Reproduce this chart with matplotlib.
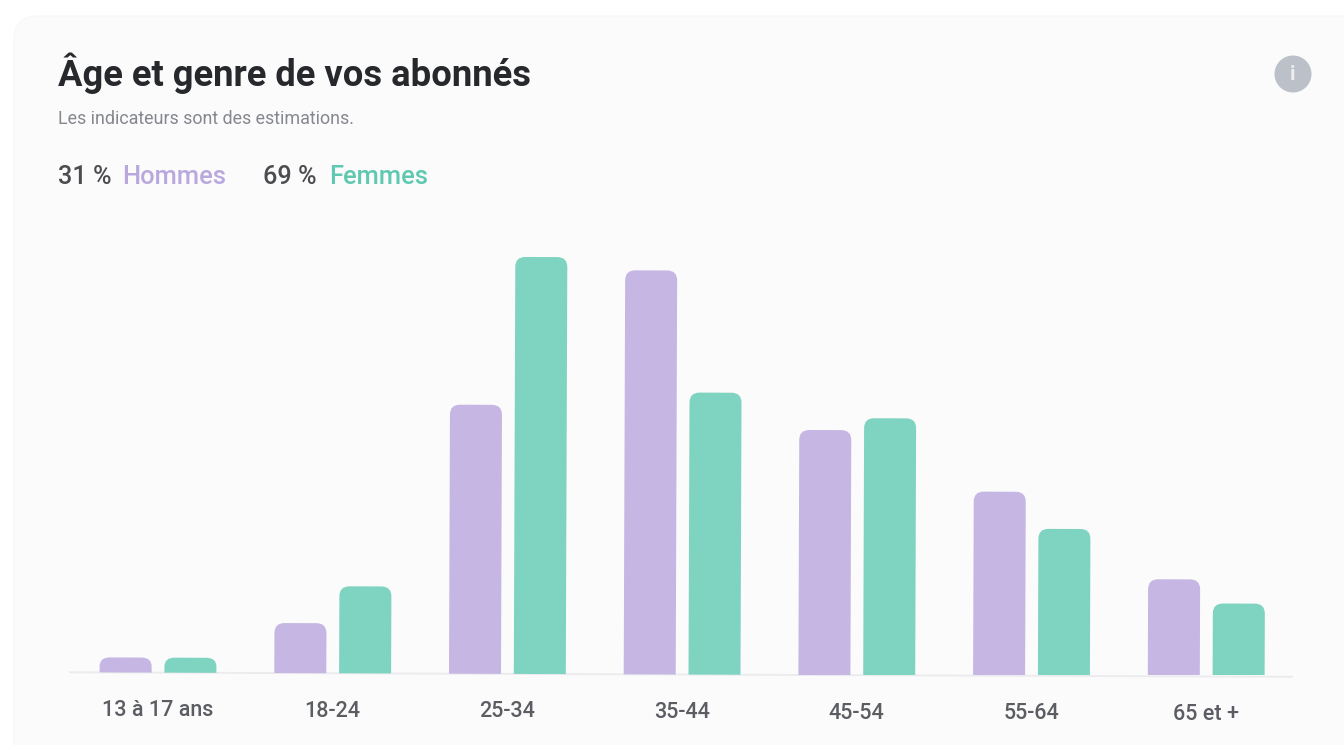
import matplotlib
matplotlib.use("Agg")
import matplotlib.pyplot as plt
from matplotlib.patches import FancyBboxPatch, PathPatch, Circle
from matplotlib.path import Path
from matplotlib.transforms import Affine2D
import numpy as np

categories = ["13 à 17 ans", "18-24", "25-34", "35-44", "45-54", "55-64", "65 et +"]
hommes = [15, 50, 269, 404, 245, 184, 97]
femmes = [15, 87, 417, 282, 257, 147, 73]
color_h = "#c5b6e3"
color_f = "#7fd3c1"
W, H = 1344, 745

plt.rcParams["font.family"] = ["Roboto", "DejaVu Sans"]
fig = plt.figure(figsize=(W / 100, H / 100), dpi=100, facecolor="white")

# page-level axes in pixel coordinates
bg = fig.add_axes([0, 0, 1, 1])
bg.set_xlim(0, W)
bg.set_ylim(H, 0)
bg.axis("off")
bg.add_patch(FancyBboxPatch((14, 16), W + 60, H + 60,
                            boxstyle="round,pad=0,rounding_size=24",
                            fc="#fbfbfb", ec="#f8f8f8", lw=1))
bg.text(58, 86, "Âge et genre de vos abonnés", fontsize=26.2, fontweight="bold",
        color="#26282c", va="baseline")
bg.text(58, 124, "Les indicateurs sont des estimations.", fontsize=12.9,
        color="#85878f", va="baseline")

bg.text(58, 183.5, "31 %", fontsize=18.2, fontweight="medium", color="#4a4c50", va="baseline")
bg.text(122, 183.5, "Hommes", fontsize=18.4, fontweight="medium", color="#b9a8de", va="baseline")
bg.text(263, 183.5, "69 %", fontsize=18.2, fontweight="medium", color="#4a4c50", va="baseline")
bg.text(329, 183.5, "Femmes", fontsize=18.4, fontweight="medium", color="#5fc8b0", va="baseline")

bg.add_patch(Circle((1293, 74), 18.5, fc="#bcc0c9", ec="none"))
bg.text(1293, 74, "i", fontsize=15, fontweight="bold", color="#eceef0",
        ha="center", va="center")

# chart axes: slight rotation reproduces the tilt of the screenshot
ax_l, ax_r, ax_base, ax_top = 70, 1292, 674.5, 230
ax = fig.add_axes([ax_l / W, 1 - ax_base / H, (ax_r - ax_l) / W, (ax_base - ax_top) / H])
ax.patch.set_alpha(0)
x = np.arange(len(categories))
group_step = 174.7
first_center = 158.0
ax.set_xlim((ax_l - first_center) / group_step, (ax_r - first_center) / group_step)
ax.set_ylim(0, ax_base - ax_top)
for s in ax.spines.values():
    s.set_visible(False)
ax.set_xticks([])
ax.set_yticks([])
ax.tick_params(length=0)

tilt = Affine2D().rotate_deg_around(W / 2, H - 675.0, -0.21)
tr = ax.transData + tilt

offset = 32.4 / group_step
width = 52.0 / group_step
rx = 10.0 / group_step
ry = 10.0


def rounded(x0, w, h, color):
    r_y = min(ry, h * 0.6)
    verts = [(x0, 0), (x0, h - r_y), (x0, h), (x0 + rx, h), (x0 + w - rx, h),
             (x0 + w, h), (x0 + w, h - r_y), (x0 + w, 0), (x0, 0)]
    codes = [Path.MOVETO, Path.LINETO, Path.CURVE3, Path.CURVE3, Path.LINETO,
             Path.CURVE3, Path.CURVE3, Path.LINETO, Path.CLOSEPOLY]
    ax.add_patch(PathPatch(Path(verts, codes), fc=color, ec="none", transform=tr, zorder=3))


ax.plot([ax.get_xlim()[0], ax.get_xlim()[1]], [0, 0], color="#ececee", lw=1.4,
        transform=tr, zorder=2, clip_on=False)

for xi, h_val, f_val in zip(x, hommes, femmes):
    rounded(xi - offset - width / 2, width, h_val, color_h)
    rounded(xi + offset - width / 2, width, f_val, color_f)

for xi, cat in zip(x, categories):
    ax.text(xi, -43.5, cat, ha="center", va="baseline", fontsize=15.5, fontweight="medium",
            color="#5b5d62", transform=tr, clip_on=False)

fig.savefig("out.png", dpi=100, facecolor="white")
